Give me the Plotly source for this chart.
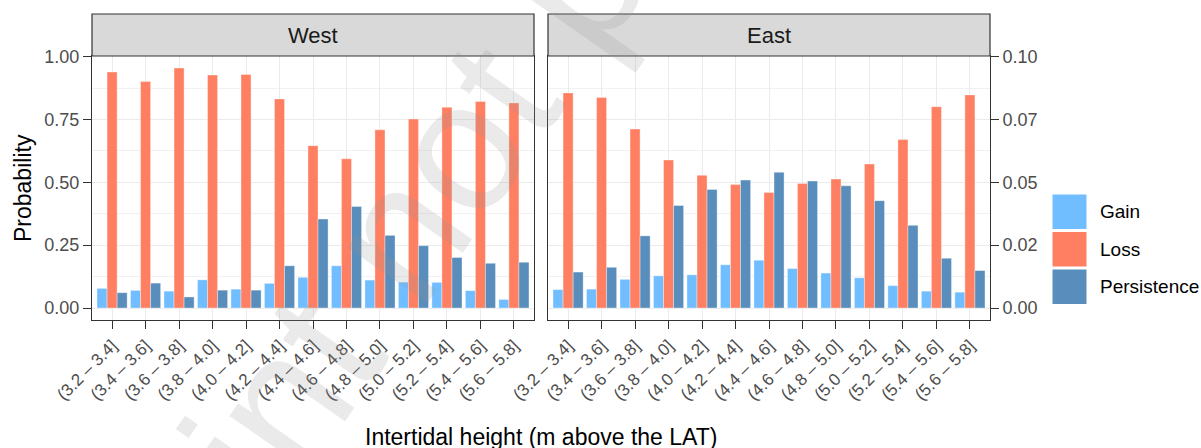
import plotly.graph_objects as go

# ---------------- data ----------------
categories = ["(3.2 – 3.4]", "(3.4 – 3.6]", "(3.6 – 3.8]", "(3.8 – 4.0]", "(4.0 – 4.2]",
              "(4.2 – 4.4]", "(4.4 – 4.6]", "(4.6 – 4.8]", "(4.8 – 5.0]", "(5.0 – 5.2]",
              "(5.2 – 5.4]", "(5.4 – 5.6]", "(5.6 – 5.8]"]

west_gain = [0.078, 0.070, 0.067, 0.112, 0.075, 0.098, 0.122, 0.168, 0.111, 0.103, 0.102, 0.069, 0.034]
west_loss = [0.939, 0.901, 0.955, 0.927, 0.929, 0.832, 0.646, 0.594, 0.709, 0.752, 0.799, 0.822, 0.816]
west_persistence = [0.061, 0.099, 0.044, 0.071, 0.071, 0.168, 0.354, 0.404, 0.289, 0.248, 0.201, 0.178, 0.182]

east_gain = [0.073, 0.075, 0.114, 0.128, 0.132, 0.172, 0.190, 0.157, 0.139, 0.120, 0.089, 0.067, 0.063]
east_loss = [0.856, 0.838, 0.712, 0.589, 0.528, 0.491, 0.460, 0.495, 0.513, 0.573, 0.670, 0.801, 0.848]
east_persistence = [0.143, 0.162, 0.287, 0.408, 0.472, 0.509, 0.540, 0.505, 0.486, 0.427, 0.329, 0.198, 0.149]

series_names = ["Gain", "Loss", "Persistence"]
series_colors = ["#70BDFF", "#FF7F62", "#588DBC"]
facet_names = ["West", "East"]

left_tickvals = [0.0, 0.25, 0.5, 0.75, 1.0]
left_ticktext = ["0.00", "0.25", "0.50", "0.75", "1.00"]
right_ticktext = ["0.00", "0.02", "0.05", "0.07", "0.10"]
minor_tickvals = [0.125, 0.375, 0.625, 0.875]

x_title = "Intertidal height (m above the LAT)"
y_title = "Probability"
watermark = "Preprint not peer reviewed"

# ---------------- layout geometry (pixels) ----------------
W, H = 1201, 448
FONT = "Liberation Sans, Arial, Helvetica, sans-serif"


def px_x(p):
    return p / W


def px_y(p):
    return 1 - p / H


panel_x = [(92, 534), (548, 990)]
panel_top, panel_bottom = 56, 320
strip_top = 14

ymax = max(west_gain + west_loss + west_persistence + east_gain + east_loss + east_persistence)
yrange = [-0.05 * ymax, 1.05 * ymax]

fig = go.Figure()

facet_data = [
    (west_gain, west_loss, west_persistence),
    (east_gain, east_loss, east_persistence),
]
axes = [("x", "y"), ("x2", "y2")]

for (xa, ya), data in zip(axes, facet_data):
    for name, color, vals in zip(series_names, series_colors, data):
        fig.add_trace(go.Bar(
            x=categories, y=vals, name=name, xaxis=xa, yaxis=ya,
            marker=dict(color=color, line=dict(color="rgba(255,255,255,0.6)", width=0.6)),
            showlegend=False, hoverinfo="x+y+name",
        ))

# invisible helper trace so the secondary (right) axis is rendered
fig.add_trace(go.Scatter(x=categories, y=east_gain, xaxis="x2", yaxis="y3",
                         mode="markers", marker=dict(opacity=0), showlegend=False,
                         hoverinfo="skip"))

grid_col = "#EBEBEB"
border_col = "#333333"
tick_font = dict(family=FONT, size=18, color="#4D4D4D")

xaxis_common = dict(
    type="category", categoryorder="array", categoryarray=categories,
    range=[-0.6, len(categories) - 0.4],
    showgrid=True, gridcolor=grid_col, gridwidth=1.1,
    showline=True, linecolor=border_col, linewidth=1.2, mirror=True,
    ticks="outside", ticklen=8, tickwidth=1.2, tickcolor=border_col,
    tickangle=-45, tickfont=dict(family=FONT, size=17, color="#4D4D4D"),
    zeroline=False, fixedrange=True, automargin=False,
)
yaxis_common = dict(
    range=yrange, tickvals=left_tickvals, ticktext=left_ticktext,
    showgrid=True, gridcolor=grid_col, gridwidth=1.1,
    minor=dict(tickvals=minor_tickvals, showgrid=True, gridcolor="#F1F1F1", gridwidth=0.6, ticks=""),
    showline=True, linecolor=border_col, linewidth=1.2, mirror=True,
    zeroline=False, fixedrange=True, automargin=False,
    domain=[px_y(panel_bottom), px_y(panel_top)],
)

fig.update_layout(
    width=W, height=H,
    margin=dict(l=0, r=0, t=0, b=0, pad=0, autoexpand=False),
    paper_bgcolor="white", plot_bgcolor="white",
    barmode="group", bargap=0.1, bargroupgap=0,
    showlegend=False,
    font=dict(family=FONT),
    xaxis=dict(xaxis_common, domain=[px_x(panel_x[0][0]), px_x(panel_x[0][1])], anchor="y"),
    xaxis2=dict(xaxis_common, domain=[px_x(panel_x[1][0]), px_x(panel_x[1][1])], anchor="y2"),
    yaxis=dict(yaxis_common, anchor="x", ticks="outside", ticklen=8, tickwidth=1.2,
               tickcolor=border_col, tickfont=tick_font),
    yaxis2=dict(yaxis_common, anchor="x2", showticklabels=False, ticks=""),
    yaxis3=dict(range=yrange, tickvals=left_tickvals, ticktext=right_ticktext,
                overlaying="y2", side="right", anchor="x2", showgrid=False,
                zeroline=False, showline=False, ticks="outside", ticklen=8,
                tickwidth=1.2, tickcolor=border_col, tickfont=tick_font, fixedrange=True,
                automargin=False),
)

shapes = []
annotations = []

# facet strips
for (x0, x1), name in zip(panel_x, facet_names):
    shapes.append(dict(type="rect", xref="paper", yref="paper",
                       x0=px_x(x0), x1=px_x(x1), y0=px_y(panel_top), y1=px_y(strip_top),
                       fillcolor="#D9D9D9", line=dict(color=border_col, width=1.2), layer="above"))
    annotations.append(dict(text=name, xref="paper", yref="paper",
                            x=px_x((x0 + x1) / 2), y=px_y((strip_top + panel_top) / 2),
                            xanchor="center", yanchor="middle", showarrow=False,
                            font=dict(family=FONT, size=22, color="#1A1A1A")))

# axis titles
annotations.append(dict(text=x_title, xref="paper", yref="paper",
                        x=px_x((panel_x[0][0] + panel_x[1][1]) / 2), y=px_y(437),
                        xanchor="center", yanchor="middle", showarrow=False,
                        font=dict(family=FONT, size=23, color="black")))
annotations.append(dict(text=y_title, xref="paper", yref="paper", textangle=-90,
                        x=px_x(23), y=px_y((panel_top + panel_bottom) / 2),
                        xanchor="center", yanchor="middle", showarrow=False,
                        font=dict(family=FONT, size=23, color="black")))

# legend (drawn manually to match ggplot's large square keys)
key_x0, key_x1 = 1052, 1087
key_top, key_h = 193, 37.5
for i, (name, color) in enumerate(zip(series_names, series_colors)):
    y0 = key_top + i * key_h
    shapes.append(dict(type="rect", xref="paper", yref="paper",
                       x0=px_x(key_x0), x1=px_x(key_x1), y0=px_y(y0 + key_h - 1), y1=px_y(y0 + 1),
                       fillcolor=color, line=dict(color="white", width=1)))
    annotations.append(dict(text=name, xref="paper", yref="paper",
                            x=px_x(1098), y=px_y(y0 + key_h / 2),
                            xanchor="left", yanchor="middle", showarrow=False,
                            font=dict(family=FONT, size=19, color="black")))

# watermark
annotations.append(dict(text=watermark, xref="paper", yref="paper",
                        x=px_x(589), y=px_y(-39), xanchor="center", yanchor="middle",
                        textangle=-55, showarrow=False,
                        font=dict(family=FONT, size=185, color="rgba(150,150,150,0.2)")))

fig.update_layout(shapes=shapes, annotations=annotations)

fig.write_html("out.html", config={"displayModeBar": False},
               post_script="document.body.style.margin='0';")
